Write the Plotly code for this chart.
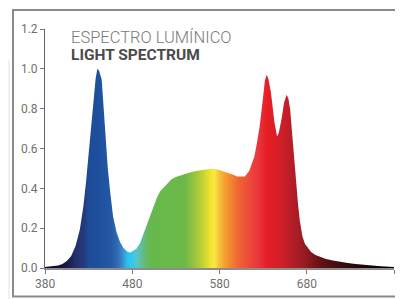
import plotly.graph_objects as go

wavelength = [380, 390, 395, 400, 405, 410, 415, 420, 424, 427, 430, 435, 438, 440, 442, 445, 449,
              452, 455, 458, 462, 466, 470, 475, 478, 481, 485, 489, 492, 496, 500, 504, 508, 512,
              516, 520, 525, 530, 538, 545, 553, 562, 570, 576, 580, 586, 591, 596, 600, 605, 609,
              614, 617, 620, 623, 626, 630, 632, 634, 636, 639, 641, 643, 646, 648, 651, 654, 657,
              659, 661, 663, 665.5, 668, 670, 672, 675, 678, 681, 685, 690, 696, 702, 710, 717, 727,
              736, 745, 755, 765, 778, 780]
intensity = [0.005, 0.008, 0.012, 0.02, 0.035, 0.06, 0.11, 0.195, 0.31, 0.43, 0.57, 0.83, 0.95, 1.0,
             0.99, 0.945, 0.70, 0.50, 0.37, 0.26, 0.18, 0.13, 0.10, 0.08, 0.078, 0.085, 0.098, 0.125,
             0.16, 0.21, 0.26, 0.31, 0.35, 0.385, 0.405, 0.425, 0.445, 0.457, 0.47, 0.478, 0.487,
             0.494, 0.498, 0.497, 0.492, 0.484, 0.477, 0.468, 0.46, 0.458, 0.46, 0.487, 0.52, 0.56,
             0.63, 0.71, 0.86, 0.94, 0.97, 0.95, 0.88, 0.80, 0.73, 0.66, 0.68, 0.745, 0.83, 0.87,
             0.85, 0.795, 0.69, 0.55, 0.40, 0.32, 0.24, 0.16, 0.12, 0.10, 0.08, 0.065, 0.053, 0.045,
             0.038, 0.032, 0.025, 0.02, 0.015, 0.012, 0.009, 0.006, 0.005]

color_wavelengths = [380, 395, 405, 415, 425, 430, 440, 455, 462, 468, 474, 479, 485, 492, 500,
                     540, 552, 562, 569, 574, 580, 586, 600, 615, 625, 635, 650, 662, 678, 690,
                     700, 720, 745, 780]
color_values = ["#05050f", "#0e1230", "#161d45", "#22306c", "#243a7c", "#1e4c98", "#1e4f9c",
                "#2458a4", "#2d68b0", "#3a86c6", "#2cbfea", "#2ec8ef", "#5ac4c8", "#62bc8a",
                "#66b94e", "#6cb848", "#9cc43e", "#c8d434", "#f0e22a", "#f8e948", "#f6c03a",
                "#f5a030", "#f06a32", "#ec4838", "#e8343a", "#e71d25", "#d11f28", "#b81e28",
                "#961a22", "#751418", "#5a1014", "#3a0c0e", "#1a0506", "#000000"]

x_ticks = [380, 480, 580, 680, 780]
y_ticks = [0.0, 0.2, 0.4, 0.6, 0.8, 1.0, 1.2]

title_line1 = "ESPECTRO LUMÍNICO"
title_line2 = "LIGHT SPECTRUM"

xmin, xmax = 380, 780
colorscale = [[(w - xmin) / (xmax - xmin), c] for w, c in zip(color_wavelengths, color_values)]

fig = go.Figure()
fig.add_trace(go.Scatter(
    x=wavelength, y=intensity, mode="lines", line=dict(width=0),
    fill="tozeroy",
    fillgradient=dict(type="horizontal", colorscale=colorscale, start=xmin, stop=xmax),
    hoverinfo="skip", showlegend=False,
))

tick_font = dict(family="Roboto", size=12, color="#707070")
fig.update_xaxes(range=[xmin, xmax], tickvals=x_ticks, ticktext=[str(v) for v in x_ticks],
                 showgrid=False, zeroline=False, showline=True, linecolor="rgba(0,0,0,0.45)",
                 linewidth=2, ticks="outside", ticklen=4, tickcolor="#777", tickwidth=1,
                 tickfont=tick_font, layer="above traces")
fig.update_yaxes(range=[0, 1.2], tickvals=y_ticks, ticktext=[f"{v:.1f}" for v in y_ticks],
                 showgrid=False, zeroline=False, showline=True, linecolor="#666", linewidth=1,
                 ticks="outside", ticklen=4, tickcolor="#777", tickwidth=1, tickfont=tick_font)

# the page body has an 8px margin: lay the figure out in screen pixels minus that offset
OFF = 8
W, H = 403 - OFF, 299 - OFF
l, r, t, b = 45 - OFF, 9, 29 - OFF, 31
pw, ph = W - l - r, H - t - b


def px_x(p):
    return (p - OFF - l) / pw


def px_y(p):
    return (H - b - (p - OFF)) / ph


fig.add_shape(type="rect", xref="paper", yref="paper",
              x0=px_x(8), x1=px_x(10), y0=px_y(299), y1=px_y(60),
              fillcolor="#f5eef5", line=dict(width=0), layer="below")
fig.add_shape(type="rect", xref="paper", yref="paper",
              x0=px_x(13), x1=px_x(406), y0=px_y(296.5), y1=px_y(10),
              line=dict(color="#8a8a8a", width=2), fillcolor="rgba(0,0,0,0)")

title_text = (f'<span style="font-size:16.5px;font-weight:300;color:#7a7a7a">{title_line1}</span>'
              f'<br><span style="font-size:15.5px;font-weight:bold;color:#4a4a4a">{title_line2}</span>')
fig.add_annotation(xref="paper", yref="paper", x=px_x(69), y=px_y(45.5), xanchor="left",
                   yanchor="middle", showarrow=False, text=title_text, align="left",
                   font=dict(family="Roboto", size=13.2, color="#7a7a7a"))

fig.update_layout(width=W, height=H, margin=dict(l=l, r=r, t=t, b=b),
                  paper_bgcolor="white", plot_bgcolor="white")

fig.write_html("out.html")
